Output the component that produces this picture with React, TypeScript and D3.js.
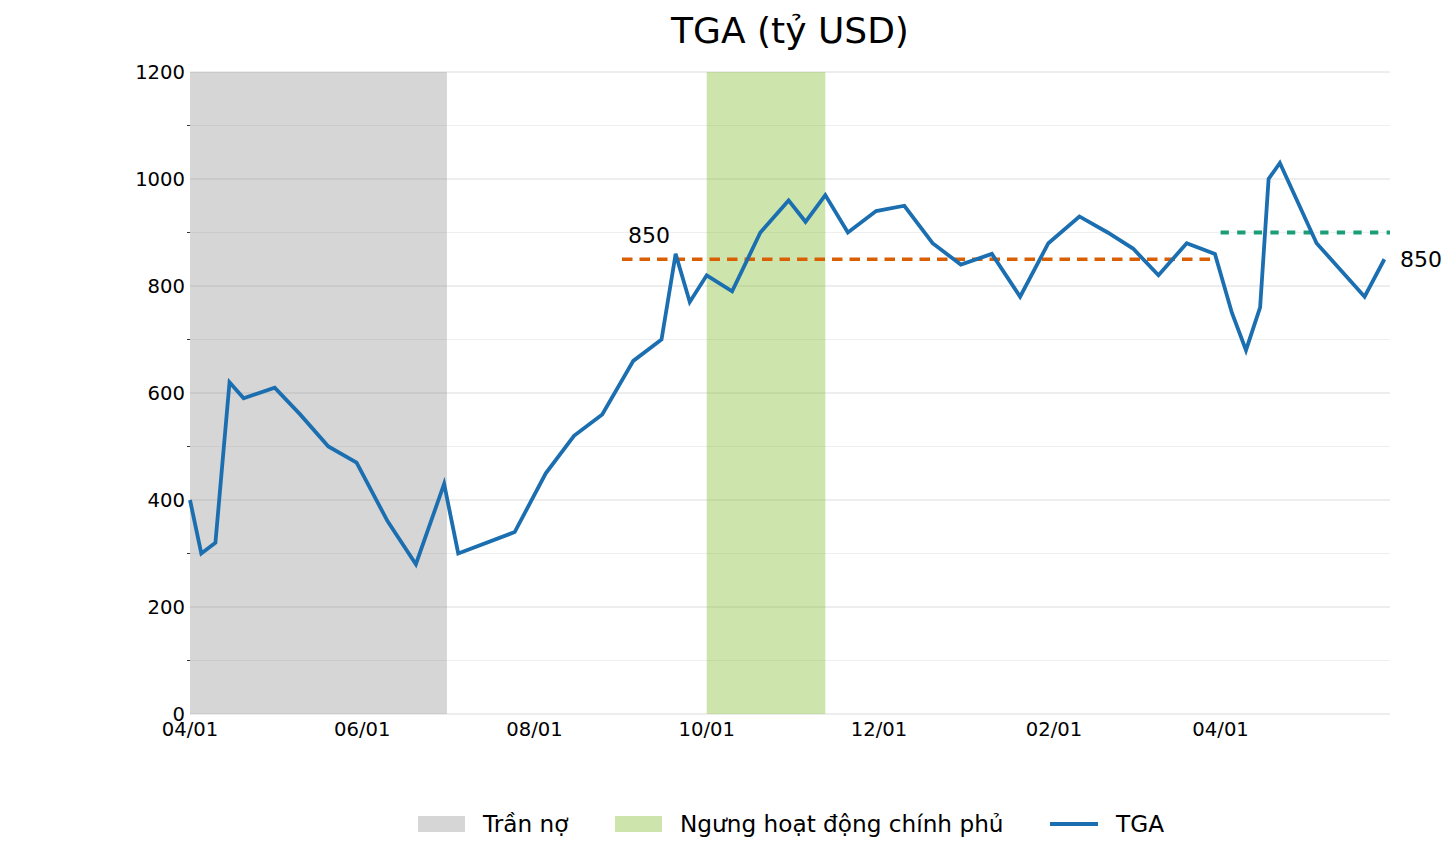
import { line, scaleLinear, scaleUtc, utcFormat, utcMonth, utcParse } from "d3";

const parseDay = utcParse("%Y-%m-%d");

// TGA balance, billion USD
const tgaDates = [
  "2025-04-01", "2025-04-05", "2025-04-10", "2025-04-15", "2025-04-20", "2025-05-01",
  "2025-05-10", "2025-05-20", "2025-05-30", "2025-06-10", "2025-06-20", "2025-06-30",
  "2025-07-05", "2025-07-25", "2025-08-05", "2025-08-15", "2025-08-25", "2025-09-05",
  "2025-09-15", "2025-09-20", "2025-09-25", "2025-10-01", "2025-10-10", "2025-10-20",
  "2025-10-30", "2025-11-05", "2025-11-12", "2025-11-20", "2025-11-30", "2025-12-10",
  "2025-12-20", "2025-12-30", "2026-01-10", "2026-01-20", "2026-01-30", "2026-02-10",
  "2026-02-20", "2026-03-01", "2026-03-10", "2026-03-20", "2026-03-30", "2026-04-05",
  "2026-04-10", "2026-04-15", "2026-04-18", "2026-04-22", "2026-05-05", "2026-05-22",
  "2026-05-29",
];
const tgaValues = [
  400, 300, 320, 620, 590, 610,
  560, 500, 470, 360, 280, 430,
  300, 340, 450, 520, 560, 660,
  700, 860, 770, 820, 790, 900,
  960, 920, 970, 900, 940, 950,
  880, 840, 860, 780, 880, 930,
  900, 870, 820, 880, 860, 750,
  680, 760, 1000, 1030, 880, 780,
  850,
];

const xDomain = ["2025-04-01", "2026-05-31"];
const yDomain = [0, 1200];

// shaded periods
const spanLabels = ["Trần nợ", "Ngưng hoạt động chính phủ"];
const spanStarts = ["2025-04-01", "2025-10-01"];
const spanEnds = ["2025-07-01", "2025-11-12"];

// reference levels
const refStarts = ["2025-09-01", "2026-04-01"];
const refEnds = ["2026-03-31", "2026-05-31"];
const refValues = [850, 900];
const refLabels = ["850", "850"];

const W = 1456;
const H = 857;
const margin = { top: 72, right: 66, bottom: 143, left: 190 };
const font = "DejaVu Sans, Verdana, sans-serif";

const spanFills = ["rgba(128,128,128,0.32)", "rgba(130,188,48,0.4)"];
const refColors = ["#d95f02", "#1b9e77"];
const refDash = ["10.5,7", "8.3,8.3"];
const lineColor = "#1b6fb0";

export default function App() {
  const start = parseDay(xDomain[0]) as Date;
  const end = parseDay(xDomain[1]) as Date;
  const x = scaleUtc().domain([start, end]).range([margin.left, W - margin.right]);
  const y = scaleLinear().domain(yDomain).range([H - margin.bottom, margin.top]);

  const points = tgaDates.map((d, i) => ({ date: parseDay(d) as Date, value: tgaValues[i] }));
  const path = line<{ date: Date; value: number }>()
    .x((d) => x(d.date))
    .y((d) => y(d.value))(points);

  const majorTicks = y.ticks(6);
  const minorTicks = y.ticks(12).filter((t) => t % 200 !== 0);
  const xTicks = utcMonth.range(start, end, 2);
  const fmt = utcFormat("%m/%d");

  const x0 = margin.left;
  const x1 = W - margin.right;
  const yTop = margin.top;
  const yBot = H - margin.bottom;

  return (
    <svg
      width={W}
      height={H}
      viewBox={`0 0 ${W} ${H}`}
      style={{ position: "absolute", left: 0, top: 0, background: "#fff" }}
      fontFamily={font}
    >
      <rect width={W} height={H} fill="#fff" />

      {minorTicks.map((t) => (
        <g key={`mn${t}`}>
          <line x1={x0} x2={x1} y1={y(t)} y2={y(t)} stroke="#efefef" strokeWidth={1} />
          <line x1={x0 - 3} x2={x0} y1={y(t)} y2={y(t)} stroke="#333" strokeWidth={1} />
        </g>
      ))}
      {majorTicks.map((t) => (
        <line key={`mj${t}`} x1={x0} x2={x1} y1={y(t)} y2={y(t)} stroke="#dcdcdc" strokeWidth={1} />
      ))}

      {spanStarts.map((s, i) => {
        const a = x(parseDay(s) as Date);
        const b = x(parseDay(spanEnds[i]) as Date);
        return <rect key={s} x={a} y={yTop} width={b - a} height={yBot - yTop} fill={spanFills[i]} />;
      })}

      {refValues.map((v, i) => (
        <line
          key={`ref${i}`}
          x1={x(parseDay(refStarts[i]) as Date)}
          x2={x(parseDay(refEnds[i]) as Date)}
          y1={y(v)}
          y2={y(v)}
          stroke={refColors[i]}
          strokeWidth={i === 0 ? 3.4 : 4}
          strokeDasharray={refDash[i]}
        />
      ))}

      <path d={path ?? ""} fill="none" stroke={lineColor} strokeWidth={3.8} strokeLinejoin="miter" />

      <text x={x(parseDay(refStarts[0]) as Date) + 6} y={y(refValues[0]) - 16} fontSize={22} fill="#000">
        {refLabels[0]}
      </text>
      <text x={x1 + 10} y={y(tgaValues[tgaValues.length - 1]) + 8} fontSize={22} fill="#000">
        {refLabels[1]}
      </text>

      {majorTicks.map((t) => (
        <text key={`yl${t}`} x={x0 - 5} y={y(t)} dy="0.35em" textAnchor="end" fontSize={19.6} fill="#000">
          {t}
        </text>
      ))}
      {xTicks.map((t) => (
        <text key={`xl${+t}`} x={x(t)} y={yBot + 22} textAnchor="middle" fontSize={19.6} fill="#000">
          {fmt(t)}
        </text>
      ))}

      <text x={(x0 + x1) / 2} y={43} textAnchor="middle" fontSize={36} fill="#000">
        TGA (tỷ USD)
      </text>

      <g fontSize={23.2} fill="#000">
        <rect x={418} y={816} width={47} height={16} fill={spanFills[0]} />
        <text x={483} y={832}>{spanLabels[0]}</text>
        <rect x={615} y={816} width={47} height={16} fill={spanFills[1]} />
        <text x={680} y={832}>{spanLabels[1]}</text>
        <line x1={1050} x2={1098} y1={824} y2={824} stroke={lineColor} strokeWidth={3.8} />
        <text x={1116} y={832}>TGA</text>
      </g>
    </svg>
  );
}
